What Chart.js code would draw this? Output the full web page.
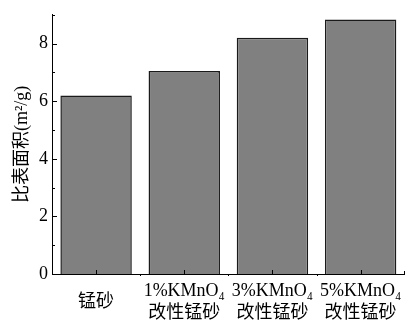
<!DOCTYPE html>
<html>
<head>
<meta charset="utf-8">
<script src="https://cdn.jsdelivr.net/npm/chart.js@4"></script>
<style>
  html, body { margin: 0; padding: 0; background: #fff; }
  #wrap { width: 419px; height: 323px; }
</style>
</head>
<body>
<div id="wrap"><canvas id="c" width="419" height="323"></canvas></div>
<script>
var categories = [['锰砂'], ['1%KMnO₄', '改性锰砂'], ['3%KMnO₄', '改性锰砂'], ['5%KMnO₄', '改性锰砂']];
var areaValues = [6.2, 7.05, 8.2, 8.84];
var yMajorTicks = [0, 2, 4, 6, 8];
var yMinorTicks = [1, 3, 5, 7, 9];
var yTitle = '比表面积(m²/g)';

var FONT = '"Liberation Serif", "Noto Sans CJK SC", serif';

// inward tick marks, drawn off the chart's own scales
var tickMarks = {
    id: 'tickMarks',
    afterDraw: function(chart) {
        var ctx = chart.ctx;
        var xs = chart.scales.x, ys = chart.scales.y;
        var left = xs.left, bottom = ys.bottom;
        ctx.save();
        ctx.strokeStyle = '#000';
        ctx.lineWidth = 1;
        ctx.beginPath();
        yMajorTicks.forEach(function(v) {
            var y = Math.round(ys.getPixelForValue(v)) + 0.5;
            ctx.moveTo(left, y); ctx.lineTo(left + 5, y);
        });
        yMinorTicks.forEach(function(v) {
            var y = Math.round(ys.getPixelForValue(v)) + 0.5;
            ctx.moveTo(left, y); ctx.lineTo(left + 3, y);
        });
        for (var i = 0; i < categories.length; i++) {
            var x = Math.round(xs.getPixelForValue(i)) + 0.5;
            ctx.moveTo(x, bottom); ctx.lineTo(x, bottom - 4);
            if (i > 0) {
                var xb = Math.round((xs.getPixelForValue(i) + xs.getPixelForValue(i - 1)) / 2) + 0.5;
                ctx.moveTo(xb, bottom); ctx.lineTo(xb, bottom + 2);
            }
        }
        var xr = Math.round(xs.right) - 0.5;
        ctx.moveTo(xr, bottom); ctx.lineTo(xr, bottom - 3);
        ctx.stroke();
        ctx.restore();
    }
};

new Chart(document.getElementById('c'), {
    type: 'bar',
    data: {
        labels: categories,
        datasets: [{
            data: areaValues,
            backgroundColor: '#808080',
            borderColor: '#1a1a1a',
            borderWidth: 1.5,
            barPercentage: 0.81,
            categoryPercentage: 1.0
        }]
    },
    options: {
        responsive: false,
        animation: false,
        layout: { padding: { top: 9, right: 6, left: 0, bottom: 0 } },
        plugins: { legend: { display: false }, tooltip: { enabled: false } },
        scales: {
            x: {
                grid: { display: false, drawTicks: false },
                border: { display: true, color: '#000', width: 1 },
                ticks: {
                    color: '#000', font: { family: FONT, size: 18, lineHeight: 1.22 },
                    padding: 17, maxRotation: 0, autoSkip: false, crossAlign: 'center'
                },
                afterFit: function(s) { s.height = 49; }
            },
            y: {
                min: 0, max: 9,
                grid: { display: false, drawTicks: false },
                border: { display: true, color: '#000', width: 1 },
                ticks: { color: '#000', font: { family: FONT, size: 18 }, padding: 4 },
                afterBuildTicks: function(s) {
                    s.ticks = yMajorTicks.map(function(v) { return { value: v }; });
                },
                title: {
                    display: true, text: yTitle, color: '#000',
                    font: { family: FONT, size: 18 }, padding: { top: 11, bottom: 0 }
                },
                afterFit: function(s) { s.width = 52; }
            }
        }
    },
    plugins: [tickMarks]
});
</script>
</body>
</html>
